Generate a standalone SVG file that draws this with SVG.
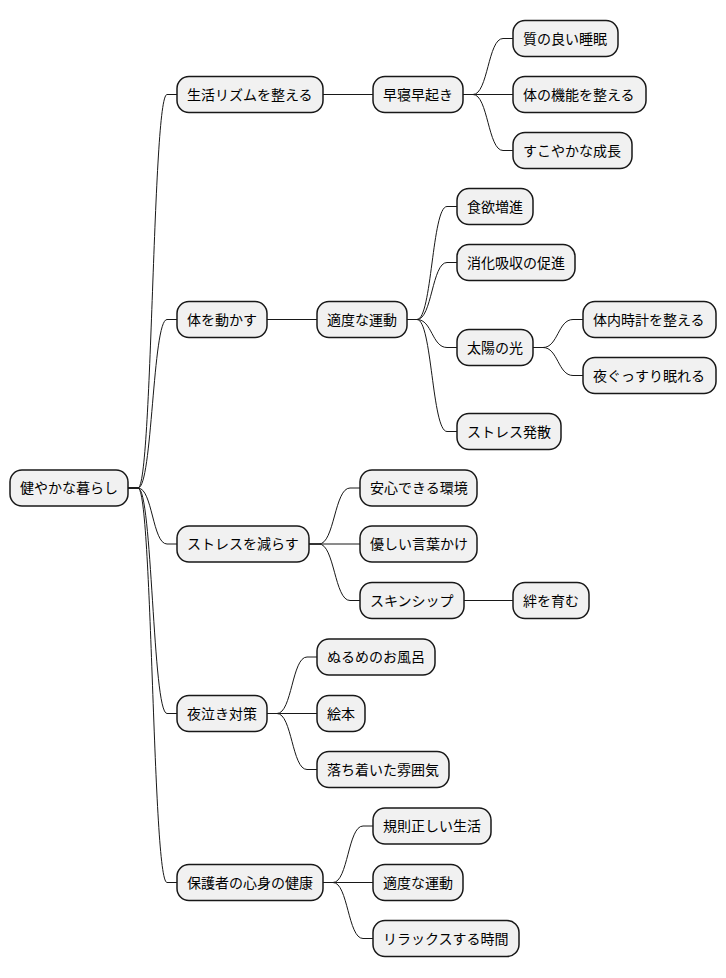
<svg xmlns="http://www.w3.org/2000/svg" width="726" height="978" viewBox="0 0 726 978">
<style>
.n rect{fill:#F1F1F1;stroke:#181818;stroke-width:1.5}
.n text{font-family:"Noto Sans CJK JP","Noto Sans",sans-serif;font-size:14px;fill:#000}
#edges path{fill:none;stroke:#181818;stroke-width:1}
</style>
<rect width="726" height="978" fill="#FFFFFF"/>
<g id="edges">
<path d="M128,488 H138 C152.5,488 152.5,94.5 167,94.5 H177"/>
<path d="M128,488 H138 C152.5,488 152.5,319.5 167,319.5 H177"/>
<path d="M128,488 H138 C152.5,488 152.5,544 167,544 H177"/>
<path d="M128,488 H138 C152.5,488 152.5,713.5 167,713.5 H177"/>
<path d="M128,488 H138 C152.5,488 152.5,882.5 167,882.5 H177"/>
<path d="M323,94.5 H373"/>
<path d="M463,94.5 H473 C488,94.5 488,38.5 503,38.5 H513"/>
<path d="M463,94.5 H513"/>
<path d="M463,94.5 H473 C488,94.5 488,150.5 503,150.5 H513"/>
<path d="M267,319.5 H317"/>
<path d="M407,319.5 H417 C432,319.5 432,206.5 447,206.5 H457"/>
<path d="M407,319.5 H417 C432,319.5 432,262.5 447,262.5 H457"/>
<path d="M407,319.5 H417 C432,319.5 432,347.5 447,347.5 H457"/>
<path d="M407,319.5 H417 C432,319.5 432,431.5 447,431.5 H457"/>
<path d="M533,347.5 H543 C558,347.5 558,319.5 573,319.5 H583"/>
<path d="M533,347.5 H543 C558,347.5 558,375.5 573,375.5 H583"/>
<path d="M309,544 H319 C334.5,544 334.5,488 350,488 H360"/>
<path d="M309,544 H360"/>
<path d="M309,544 H319 C334.5,544 334.5,600.5 350,600.5 H360"/>
<path d="M464,600.5 H513"/>
<path d="M267,713.5 H277 C292,713.5 292,657 307,657 H317"/>
<path d="M267,713.5 H317"/>
<path d="M267,713.5 H277 C292,713.5 292,769.5 307,769.5 H317"/>
<path d="M323,882.5 H333 C348,882.5 348,826 363,826 H373"/>
<path d="M323,882.5 H373"/>
<path d="M323,882.5 H333 C348,882.5 348,938.5 363,938.5 H373"/>
</g>
<g id="root" class="n"><rect x="10" y="470" width="118" height="36" rx="12"/><text x="20" y="493">健やかな暮らし</text></g>
<g id="n_rhythm" class="n"><rect x="177" y="76.5" width="146" height="36" rx="12"/><text x="187" y="99.5">生活リズムを整える</text></g>
<g id="n_hayane" class="n"><rect x="373" y="76.5" width="90" height="36" rx="12"/><text x="383" y="99.5">早寝早起き</text></g>
<g id="n_suimin" class="n"><rect x="513" y="20.5" width="105" height="36" rx="12"/><text x="523" y="43.5">質の良い睡眠</text></g>
<g id="n_kinou" class="n"><rect x="513" y="76.5" width="133" height="36" rx="12"/><text x="523" y="99.5">体の機能を整える</text></g>
<g id="n_seichou" class="n"><rect x="513" y="132.5" width="119" height="36" rx="12"/><text x="523" y="155.5">すこやかな成長</text></g>
<g id="n_ugokasu" class="n"><rect x="177" y="301.5" width="90" height="36" rx="12"/><text x="187" y="324.5">体を動かす</text></g>
<g id="n_undou1" class="n"><rect x="317" y="301.5" width="90" height="36" rx="12"/><text x="327" y="324.5">適度な運動</text></g>
<g id="n_shokuyoku" class="n"><rect x="457" y="188.5" width="76" height="36" rx="12"/><text x="467" y="211.5">食欲増進</text></g>
<g id="n_shouka" class="n"><rect x="457" y="244.5" width="118" height="36" rx="12"/><text x="467" y="267.5">消化吸収の促進</text></g>
<g id="n_taiyou" class="n"><rect x="457" y="329.5" width="76" height="36" rx="12"/><text x="467" y="352.5">太陽の光</text></g>
<g id="n_tainai" class="n"><rect x="583" y="301.5" width="133" height="36" rx="12"/><text x="593" y="324.5">体内時計を整える</text></g>
<g id="n_gussuri" class="n"><rect x="583" y="357.5" width="133" height="36" rx="12"/><text x="593" y="380.5">夜ぐっすり眠れる</text></g>
<g id="n_hassan" class="n"><rect x="457" y="413.5" width="104" height="36" rx="12"/><text x="467" y="436.5">ストレス発散</text></g>
<g id="n_stress" class="n"><rect x="177" y="526" width="132" height="36" rx="12"/><text x="187" y="549">ストレスを減らす</text></g>
<g id="n_anshin" class="n"><rect x="360" y="470" width="117" height="36" rx="12"/><text x="370" y="493">安心できる環境</text></g>
<g id="n_kotoba" class="n"><rect x="360" y="526" width="117" height="36" rx="12"/><text x="370" y="549">優しい言葉かけ</text></g>
<g id="n_skinship" class="n"><rect x="360" y="582.5" width="104" height="36" rx="12"/><text x="370" y="605.5">スキンシップ</text></g>
<g id="n_kizuna" class="n"><rect x="513" y="582.5" width="76" height="36" rx="12"/><text x="523" y="605.5">絆を育む</text></g>
<g id="n_yonaki" class="n"><rect x="177" y="695.5" width="90" height="36" rx="12"/><text x="187" y="718.5">夜泣き対策</text></g>
<g id="n_ofuro" class="n"><rect x="317" y="639" width="118" height="36" rx="12"/><text x="327" y="662">ぬるめのお風呂</text></g>
<g id="n_ehon" class="n"><rect x="317" y="695.5" width="48" height="36" rx="12"/><text x="327" y="718.5">絵本</text></g>
<g id="n_fun-iki" class="n"><rect x="317" y="751.5" width="132" height="36" rx="12"/><text x="327" y="774.5">落ち着いた雰囲気</text></g>
<g id="n_hogosha" class="n"><rect x="177" y="864.5" width="146" height="36" rx="12"/><text x="187" y="887.5">保護者の心身の健康</text></g>
<g id="n_kisoku" class="n"><rect x="373" y="808" width="118" height="36" rx="12"/><text x="383" y="831">規則正しい生活</text></g>
<g id="n_undou2" class="n"><rect x="373" y="864.5" width="90" height="36" rx="12"/><text x="383" y="887.5">適度な運動</text></g>
<g id="n_relax" class="n"><rect x="373" y="920.5" width="146" height="36" rx="12"/><text x="383" y="943.5">リラックスする時間</text></g>
</svg>
